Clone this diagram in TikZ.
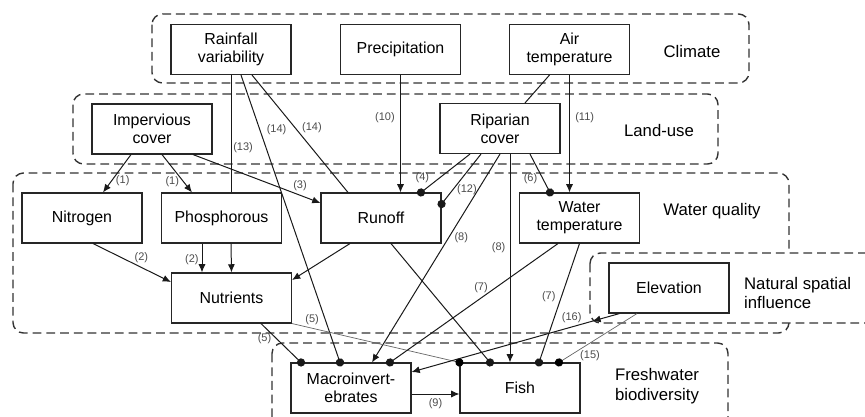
\documentclass[tikz,border=0pt]{standalone}
\usepackage{fontspec}
\setmainfont{Liberation Sans}
\usetikzlibrary{arrows.meta, calc, decorations.markings}

\begin{document}
\begin{tikzpicture}[x=0.03cm, y=-0.03cm]
        % Styles for boxes, groups and links
        \tikzstyle{block} = [rectangle, draw=black!85, line width=0.95pt, fill=white, minimum width=3.6cm,
                             minimum height=1.5cm, inner sep=0pt, align=center, font=\fontsize{13.6pt}{15.5pt}\selectfont]
        \tikzstyle{group} = [draw=black!80, line width=1.2pt, dash pattern=on 7.5pt off 4.2pt, rounded corners=9pt]
        \tikzstyle{grouplabel} = [align=center, font=\fontsize{14.3pt}{17pt}\selectfont]
        \tikzstyle{link} = [line width=0.85pt, black!90]
        \tikzstyle{arrow} = [link, -{Latex[length=7pt,width=6pt]}]
        \tikzstyle{dotarrow} = [link, -{Circle[length=7pt]}, shorten >=-3.5pt]
        \tikzstyle{faint} = [line width=0.6pt, black!60, -{Circle[length=7pt,black]}, shorten >=-3.5pt]
        \tikzstyle{lbl} = [font=\fontsize{9.4pt}{10pt}\selectfont, text=black!70, inner sep=1.5pt]

        \clip (0,0) rectangle (865,416);

        % Dashed groups
        \draw [group] (152,14) rectangle (749,83);
        \draw [group] (73,94) rectangle (718,164);
        \draw [group] (13,173) rectangle (789,333);
        \draw [group, fill=white] (590,253) rectangle (890,323);
        \draw [group] (272,343) rectangle (728,440);

        \node [grouplabel] (climatelbl) at (692,52) {Climate};
        \node [grouplabel] (landuselbl) at (659,131) {Land-use};
        \node [grouplabel] (qualitylbl) at (712,211) {Water quality};
        \node [grouplabel, align=left, anchor=west] (naturallbl) at (740,293) {Natural spatial\\influence};
        \node [grouplabel] (biodivlbl) at (657,386) {Freshwater\\biodiversity};

        % Blocks
        \node (rain) [block] at (231,49.5) {Rainfall\\variability};
        \node (prec) [block] at (400.5,49.5) {Precipitation};
        \node (air) [block] at (569.5,49.5) {Air\\temperature};
        \node (imperv) [block] at (152,129) {Impervious\\cover};
        \node (ripar) [block] at (500,128.5) {Riparian\\cover};
        \node (nitro) [block] at (82,218) {Nitrogen};
        \node (phos) [block] at (221.5,218) {Phosphorous};
        \node (runoff) [block] at (381,218) {Runoff};
        \node (wtemp) [block] at (579.5,218) {Water\\temperature};
        \node (nutri) [block] at (231.5,298) {Nutrients};
        \node (elev) [block] at (669,288) {Elevation};
        \node (macro) [block] at (351,388) {Macroinvert-\\ebrates};
        \node (fish) [block] at (520,388) {Fish};

        % Links from climate and land-use
        \draw [link] (rain.south) -- node[lbl, pos=0.62, right] {(13)} ($(phos.north)+(9.5,0)$);
        \draw [dotarrow] ($(rain.south)+(10,0)$) -- node[lbl, pos=0.19, right=4pt] {(14)} ($(macro.north)+(-11,0)$);
        \draw [link] ($(rain.south)+(21,0)$) -- node[lbl, pos=0.45, right=4pt] {(14)} ($(runoff.north)+(-33,0)$);
        \draw [arrow] (prec.south) -- node[lbl, pos=0.36, left=3pt] {(10)} ($(runoff.north)+(19.5,0)$);
        \draw [link] ($(air.south)+(-20,0)$) -- ($(ripar.north)+(25,0)$);
        \draw [arrow] (air.south) -- node[lbl, pos=0.36, right=3pt] {(11)} ($(wtemp.north)+(-10,0)$);
        \draw [arrow] ($(imperv.south)+(-21,0)$) -- node[lbl, pos=0.7, right=2pt] {(1)} ($(nitro.north)+(21,0)$);
        \draw [arrow] ($(imperv.south)+(10,0)$) -- node[lbl, pos=0.72, left=2pt] {(1)} ($(phos.north)+(-29.5,0)$);
        \draw [arrow] ($(imperv.south)+(41,0)$) -- node[lbl, pos=0.84, above=2pt] {(3)} ($(runoff.west)+(0,-15)$);
        \draw [dotarrow] ($(ripar.south)+(-30,0)$) -- node[lbl, pos=0.62, left=7pt] {(4)} ($(runoff.north)+(40,0)$);
        \draw [dotarrow] ($(ripar.south)+(-19,0)$) -- node[lbl, pos=0.72, right=2pt] {(12)} ($(runoff.east)+(0,-14)$);
        \draw [arrow] (ripar.south) -- node[lbl, pos=0.4, right=3pt] {(8)} ($(macro.north)+(21,0)$);
        \draw [arrow] ($(ripar.south)+(10,0)$) -- node[lbl, pos=0.45, left=2pt] {(8)} ($(fish.north)+(-10,0)$);
        \draw [dotarrow] ($(ripar.south)+(30,0)$) -- node[lbl, pos=0.65, left=3pt] {(6)} ($(wtemp.north)+(-29.5,0)$);

        % Links within water quality
        \draw [arrow] ($(nitro.south)+(11,0)$) -- node[lbl, pos=0.62, above=2pt] {(2)} ($(nutri.west)+(0,-16)$);
        \draw [arrow] ($(phos.south)+(-19.5,0)$) -- node[lbl, pos=0.55, left=1pt] {(2)} ($(nutri.north)+(-29.5,0)$);
        \draw [arrow] ($(phos.south)+(9.5,0)$) -- (nutri.north);
        \draw [arrow] ($(runoff.south)+(-31,0)$) -- ($(nutri.east)+(0,-18)$);
        \draw [dotarrow] ($(runoff.south)+(10,0)$) -- ($(fish.north)+(-30,0)$);

        % Links to biodiversity
        \draw [dotarrow] ($(nutri.south)+(29.5,0)$) -- node[lbl, pos=0.4, left=3pt] {(5)} ($(macro.north)+(-50,0)$);
        \draw [faint] (nutri.south east) -- node[lbl, pos=0.12, above=1pt] {(5)} (fish.north west);
        \draw [dotarrow] ($(wtemp.south)+(-21.5,0)$) -- node[lbl, pos=0.37, left=5pt] {(7)} ($(macro.north)+(39,0)$);
        \draw [dotarrow] (wtemp.south) -- node[lbl, pos=0.45, left=3pt] {(7)} ($(fish.north)+(19,0)$);
        \draw [arrow, postaction={decorate, decoration={markings,
               mark=at position 0.13 with {\arrow{Latex[length=7pt,width=6pt]}}}}]
              ($(elev.south west)+(11,0)$) -- node[lbl, pos=0.23, above=2pt] {(16)} ($(macro.east)+(0,-16)$);
        \draw [faint] ($(elev.south)+(-32,0)$) -- node[lbl, pos=0.86, right=7pt] {(15)} ($(fish.north)+(39,0)$);
        \draw [arrow] ($(macro.east)+(0,6)$) -- node[lbl, below=2pt] {(9)} ($(fish.west)+(0,6)$);
    \end{tikzpicture}
\end{document}
